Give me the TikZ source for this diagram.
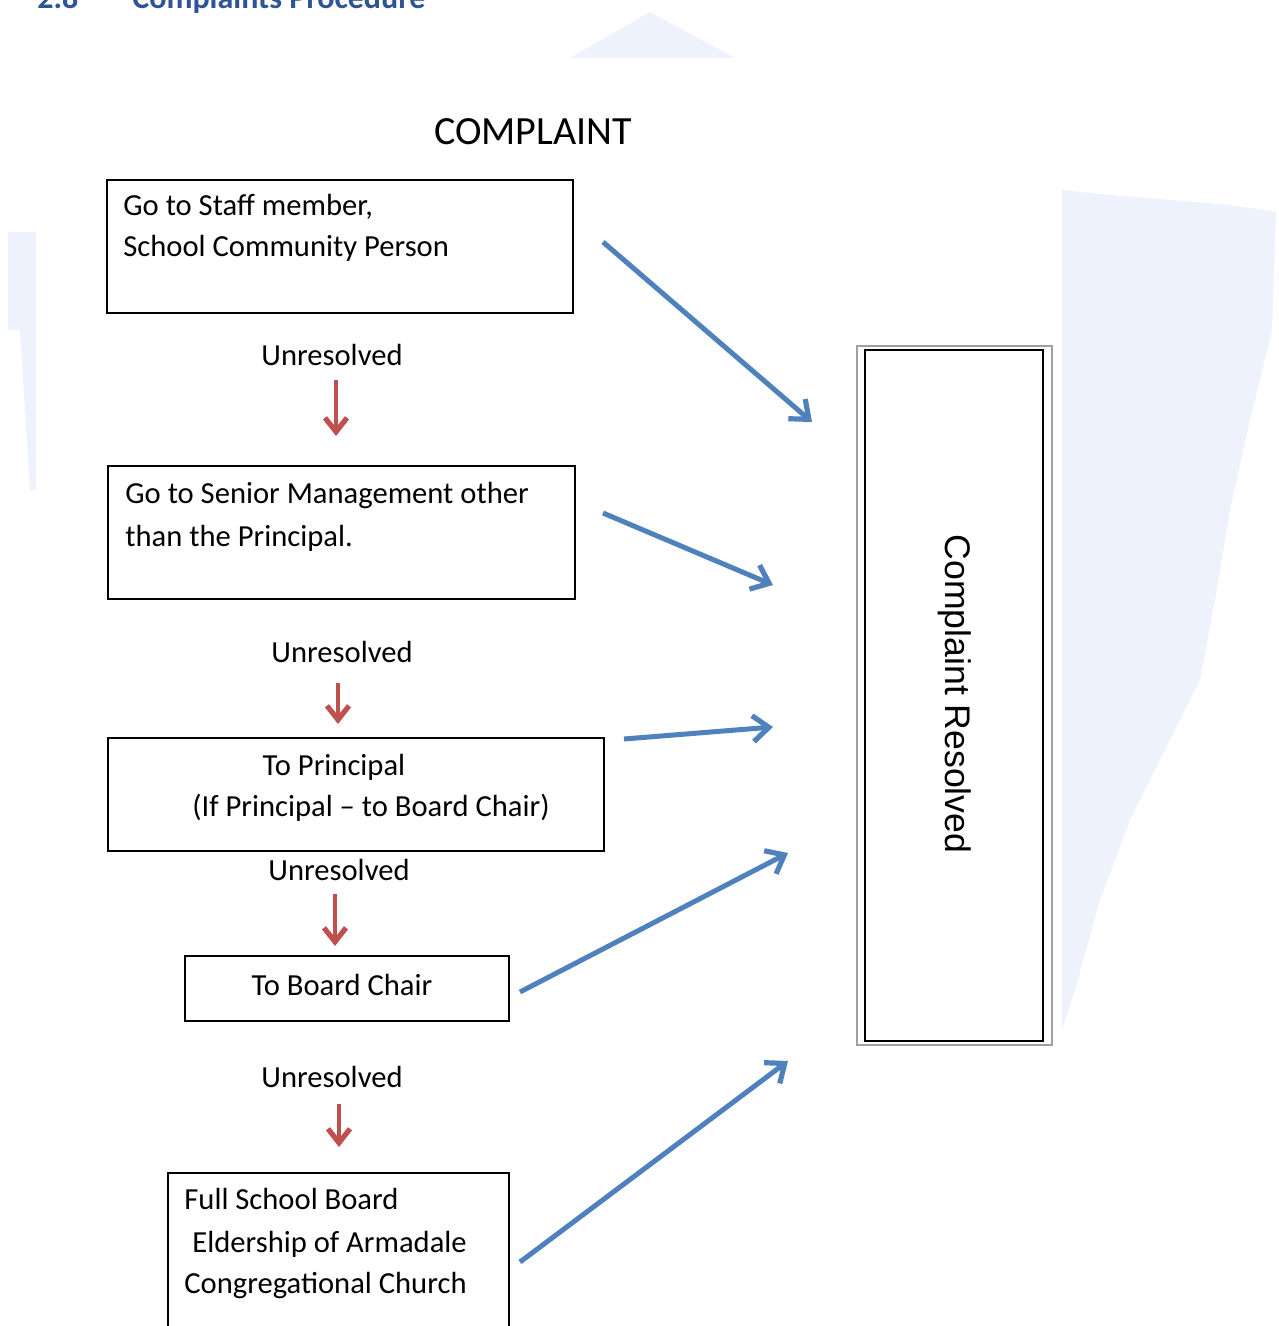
\documentclass[tikz,border=0pt]{standalone}
\usepackage{fontspec}
\setmainfont{Carlito}
\newfontfamily\arialfont{Liberation Sans}
\usetikzlibrary{arrows.meta,fit}
\definecolor{redarr}{RGB}{192,80,77}
\definecolor{bluearr}{RGB}{79,129,189}
\definecolor{headblue}{RGB}{47,84,150}
\definecolor{wm}{RGB}{238,242,252}
\tikzset{
  box/.style={draw=black, line width=1pt, inner sep=0pt},
  txt/.style={inner sep=0pt, font=\fontsize{15.3pt}{20.5pt}\selectfont},
  redarrow/.style={draw=redarr, line width=2.2pt, -{Straight Barb[length=7pt,width=11pt,line width=2.6pt]}},
  bluearrow/.style={draw=bluearr, line width=2.5pt, -{Straight Barb[length=8pt,width=13pt,line width=2.6pt]}},
}
\begin{document}
\begin{tikzpicture}[x=0.5pt,y=-0.5pt]
\useasboundingbox (0,0) rectangle (1278,1326);
\clip (0,0) rectangle (1278,1326);
% watermark
\fill[wm] (570,58) -- (650,12) -- (735,58) -- cycle;
\fill[wm] (8,232) -- (36,232) -- (36,490) -- (30,490) -- (20,330) -- (8,330) -- cycle;
\fill[wm] (1062,190) -- (1110,195) -- (1230,205) -- (1276,212) -- (1272,330) -- (1250,420) -- (1230,510) -- (1215,600) -- (1200,680) -- (1160,760) -- (1130,820) -- (1100,900) -- (1075,990) -- (1062,1030) -- cycle;
% heading (cut off at the top edge, as in the reference)
\node[anchor=base west, inner sep=0pt, font=\fontsize{16pt}{19pt}\selectfont\bfseries, text=headblue] (hnum) at (37,9) {2.8};
\node[anchor=base west, inner sep=0pt, font=\fontsize{16pt}{19pt}\selectfont\bfseries, text=headblue] (htitle) at (132,9) {Complaints Procedure};
% title
\node[anchor=base, inner sep=0pt, font=\fontsize{20pt}{24pt}\selectfont] (title) at (533,145) {COMPLAINT};
% boxes
\node[box, fit={(107,180)(573,313)}] (b1) {};
\node[box, fit={(108,466)(575,599)}] (b2) {};
\node[box, fit={(108,738)(604,851)}] (b3) {};
\node[box, fit={(185,956)(509,1021)}] (b4) {};
\node[box, fit={(168,1173)(509,1360)}] (b5) {};
% box texts
\node[txt, anchor=base west] (t1a) at (123,216) {Go to Staff member,};
\node[txt, anchor=base west] (t1b) at (123,257) {School Community Person};
\node[txt, anchor=base west] (t2a) at (125,503) {Go to Senior Management other};
\node[txt, anchor=base west] (t2b) at (125,546) {than the Principal.};
\node[txt, anchor=base] (t3a) at (334,775) {To Principal};
\node[txt, anchor=base] (t3b) at (371,816) {(If Principal -- to Board Chair)};
\node[txt, anchor=base] (t4) at (342,995) {To Board Chair};
\node[txt, anchor=base west] (t5a) at (184,1209) {Full School Board};
\node[txt, anchor=base west] (t5b) at (192,1252) {Eldership of Armadale};
\node[txt, anchor=base west] (t5c) at (184,1293) {Congregational Church};
% unresolved labels
\node[txt, anchor=base] (u1) at (332,365) {Unresolved};
\node[txt, anchor=base] (u2) at (342,662) {Unresolved};
\node[txt, anchor=base] (u3) at (339,880) {Unresolved};
\node[txt, anchor=base] (u4) at (332,1087) {Unresolved};
% red arrows
\coordinate (r1s) at (336,380); \coordinate (r1e) at (336,436);
\coordinate (r2s) at (338,683); \coordinate (r2e) at (338,724);
\coordinate (r3s) at (335,894); \coordinate (r3e) at (335,946);
\coordinate (r4s) at (339,1104); \coordinate (r4e) at (339,1147);
\draw[redarrow] (r1s) -- (r1e);
\draw[redarrow] (r2s) -- (r2e);
\draw[redarrow] (r3s) -- (r3e);
\draw[redarrow] (r4s) -- (r4e);
% resolved box
\node[draw={rgb,255:red,160;green,160;blue,160}, line width=0.8pt, inner sep=0pt, fit={(857,346)(1052,1045)}] (resOuter) {};
\node[draw=black, line width=1.1pt, inner sep=0pt, fit={(865,350)(1043,1041)}] (res) {};
\node[rotate=-90, inner sep=0pt, font=\arialfont\fontsize{17.8pt}{20pt}\selectfont] (restext) at (955,694) {Complaint Resolved};
% blue arrows
\coordinate (a1s) at (603,242); \coordinate (a1e) at (812,422);
\coordinate (a2s) at (603,513); \coordinate (a2e) at (773,585);
\coordinate (a3s) at (624,739); \coordinate (a3e) at (773,727);
\coordinate (a4s) at (520,992); \coordinate (a4e) at (788,853);
\coordinate (a5s) at (520,1262); \coordinate (a5e) at (788,1061);
\draw[bluearrow] (a1s) -- (a1e);
\draw[bluearrow] (a2s) -- (a2e);
\draw[bluearrow] (a3s) -- (a3e);
\draw[bluearrow] (a4s) -- (a4e);
\draw[bluearrow] (a5s) -- (a5e);
\end{tikzpicture}
\end{document}
